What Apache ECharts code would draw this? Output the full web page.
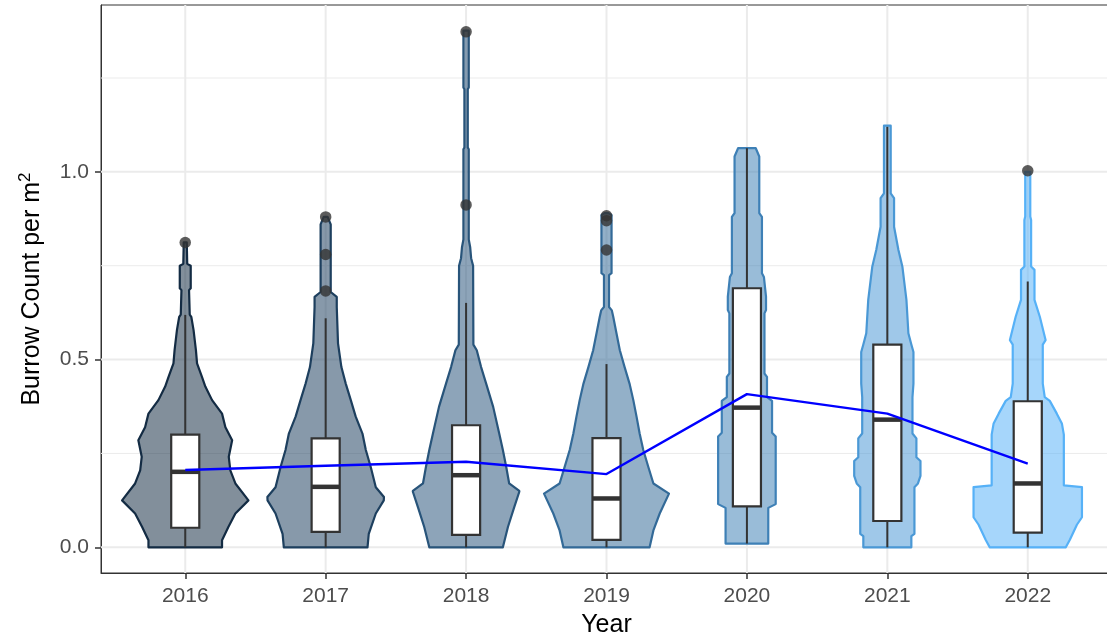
<!DOCTYPE html>
<html><head><meta charset="utf-8">
<script src="https://cdn.jsdelivr.net/npm/echarts@6/dist/echarts.min.js"></script>
<style>html,body{margin:0;padding:0;background:#fff}#c{width:1107px;height:642px}</style>
</head><body><div id="c"></div>
<script>
// ---- data ----
const years = ['2016', '2017', '2018', '2019', '2020', '2021', '2022'];
const yTicks = [0, 0.5, 1.0];
const yMinorTicks = [0.25, 0.75, 1.25];
const means = [0.206, 0.217, 0.228, 0.195, 0.408, 0.356, 0.223];
// [lower whisker, Q1, median, Q3, upper whisker]
const boxStats = [
  [0.000, 0.052, 0.201, 0.300, 0.619],
  [0.000, 0.041, 0.161, 0.290, 0.610],
  [0.000, 0.033, 0.192, 0.325, 0.651],
  [0.000, 0.020, 0.130, 0.291, 0.488],
  [0.010, 0.109, 0.372, 0.690, 1.063],
  [0.000, 0.070, 0.340, 0.540, 1.120],
  [0.000, 0.039, 0.170, 0.389, 0.708]
];
const outliers = [
  [0.812],
  [0.880, 0.780, 0.683],
  [1.373, 0.912],
  [0.883, 0.870, 0.792],
  [],
  [],
  [1.003]
];
// violin profiles: [value, half width in category units]
const violin2016 = [[0.812,0.011],[0.79,0.012],[0.755,0.014],[0.75,0.039],[0.69,0.039],[0.685,0.027],[0.62,0.032],[0.614,0.043],[0.579,0.059],[0.525,0.076],[0.49,0.084],[0.454,0.119],[0.428,0.143],[0.392,0.191],[0.356,0.262],[0.32,0.286],[0.285,0.334],[0.241,0.31],[0.205,0.321],[0.17,0.357],[0.125,0.45],[0.09,0.357],[0.054,0.307],[0.019,0.262],[0,0.262]];
const violin2017 = [[0.88,0.014],[0.86,0.036],[0.68,0.036],[0.667,0.079],[0.64,0.079],[0.543,0.088],[0.48,0.112],[0.436,0.143],[0.392,0.179],[0.348,0.214],[0.303,0.262],[0.259,0.286],[0.214,0.321],[0.16,0.357],[0.134,0.415],[0.125,0.414],[0.09,0.357],[0.036,0.307],[0,0.298]];
const violin2018 = [[1.376,0.019],[1.225,0.019],[1.22,0.012],[1.065,0.012],[1.06,0.019],[0.82,0.019],[0.80,0.029],[0.77,0.036],[0.75,0.05],[0.54,0.052],[0.525,0.076],[0.48,0.107],[0.436,0.143],[0.374,0.193],[0.303,0.236],[0.259,0.262],[0.214,0.286],[0.17,0.307],[0.15,0.379],[0.148,0.379],[0.107,0.343],[0.054,0.298],[0,0.262]];
const violin2019 = [[0.89,0.014],[0.885,0.036],[0.73,0.036],[0.725,0.018],[0.64,0.018],[0.631,0.038],[0.614,0.048],[0.57,0.071],[0.525,0.095],[0.48,0.129],[0.436,0.164],[0.392,0.191],[0.348,0.214],[0.303,0.236],[0.259,0.262],[0.214,0.298],[0.17,0.334],[0.143,0.445],[0.139,0.44],[0.09,0.379],[0.045,0.334],[0,0.307]];
const violin2020 = [[1.063,0.063],[1.041,0.088],[0.89,0.088],[0.88,0.107],[0.73,0.107],[0.72,0.121],[0.668,0.136],[0.632,0.136],[0.623,0.125],[0.463,0.125],[0.454,0.143],[0.40,0.143],[0.39,0.179],[0.305,0.179],[0.295,0.205],[0.115,0.205],[0.105,0.152],[0.01,0.152]];
const violin2021 = [[1.123,0.024],[0.943,0.024],[0.93,0.048],[0.854,0.048],[0.792,0.079],[0.748,0.107],[0.659,0.136],[0.57,0.15],[0.54,0.171],[0.52,0.186],[0.436,0.186],[0.40,0.179],[0.303,0.179],[0.29,0.207],[0.24,0.207],[0.23,0.236],[0.19,0.236],[0.17,0.218],[0.16,0.193],[0.036,0.193],[0.03,0.171],[0,0.171]];
const violin2022 = [[1.0,0.018],[0.881,0.018],[0.872,0.024],[0.748,0.024],[0.739,0.048],[0.659,0.048],[0.614,0.086],[0.552,0.127],[0.54,0.107],[0.436,0.107],[0.40,0.121],[0.39,0.157],[0.356,0.207],[0.33,0.243],[0.30,0.257],[0.165,0.257],[0.16,0.386],[0.08,0.386],[0.06,0.35],[0.02,0.3],[0,0.271]];
const violins = [violin2016, violin2017, violin2018, violin2019, violin2020, violin2021, violin2022];

// ---- styles ----
const STYLE = {
  font: 'Liberation Sans, Arial, sans-serif',
  edge: ['#132B43', '#1D3F5E', '#28547A', '#336A98', '#3E80B6', '#4A98D5', '#56B1F7'],
  fillAlpha: 0.53,
  boxHalf: 0.1,
  grid: '#EBEBEB',
  ink: '#333333'
};
function rgba(hex, a) {
  const n = parseInt(hex.slice(1), 16);
  return 'rgba(' + ((n >> 16) & 255) + ',' + ((n >> 8) & 255) + ',' + (n & 255) + ',' + a + ')';
}
const xPos = years.map((_, i) => i + 1);

const chart = echarts.init(document.getElementById('c'), null, { renderer: 'canvas' });

function hLines(width) {
  return function (params, api) {
    const cs = params.coordSys;
    const y = api.coord([1, api.value(0)])[1];
    return { type: 'line', shape: { x1: cs.x, y1: y, x2: cs.x + cs.width, y2: y },
      style: { stroke: STYLE.grid, lineWidth: width }, silent: true };
  };
}

const option = {
  animation: false,
  backgroundColor: '#fff',
  grid: { left: 101, right: -5, top: 5, bottom: 69, show: true, borderColor: STYLE.ink, borderWidth: 1,
    backgroundColor: '#fff', containLabel: false, outerBoundsMode: 'none' },
  xAxis: {
    type: 'value', min: 0.4, max: 7.6,
    axisLine: { show: true, onZero: false, lineStyle: { color: STYLE.ink, width: 1 } },
    axisTick: { show: true, customValues: xPos, length: 6, lineStyle: { color: STYLE.ink, width: 1.5 } },
    axisLabel: { show: true, customValues: xPos, formatter: v => years[Math.round(v) - 1],
      color: '#4D4D4D', fontSize: 21, fontFamily: STYLE.font, margin: 13 },
    splitLine: { show: false },
    name: 'Year', nameLocation: 'middle', nameGap: 40,
    nameTextStyle: { color: '#000', fontSize: 25, fontFamily: STYLE.font }
  },
  yAxis: {
    type: 'value', min: -0.0685, max: 1.4445,
    axisLine: { show: true, onZero: false, lineStyle: { color: STYLE.ink, width: 1 } },
    axisTick: { show: true, customValues: yTicks, length: 6, lineStyle: { color: STYLE.ink, width: 1.5 } },
    axisLabel: { show: true, customValues: yTicks, formatter: v => v.toFixed(1),
      color: '#4D4D4D', fontSize: 21, fontFamily: STYLE.font, margin: 12 },
    splitLine: { show: false },
    name: '{t|Burrow Count per m}{s|2}', nameLocation: 'middle', nameGap: 53, nameRotate: 90,
    nameTextStyle: { color: '#000', fontSize: 25, fontFamily: STYLE.font,
      rich: { t: { fontSize: 25, fontFamily: STYLE.font, color: '#000' },
              s: { fontSize: 17, fontFamily: STYLE.font, color: '#000', verticalAlign: 'top', padding: [0, 0, 14, 0] } } }
  },
  series: [
    { type: 'custom', z: 1, silent: true, data: yMinorTicks.map(v => [v]), renderItem: hLines(1) },
    { type: 'custom', z: 1, silent: true, data: yTicks.map(v => [v]), renderItem: hLines(2) },
    { type: 'custom', z: 1, silent: true, data: xPos.map(v => [v]),
      renderItem: (params, api) => {
        const cs = params.coordSys;
        const x = api.coord([api.value(0), 0])[0];
        return { type: 'line', shape: { x1: x, y1: cs.y, x2: x, y2: cs.y + cs.height },
          style: { stroke: STYLE.grid, lineWidth: 2 }, silent: true };
      } },
    { type: 'custom', z: 2, silent: true, data: xPos.map(v => [v]),
      renderItem: (params, api) => {
        const i = params.dataIndex;
        const x = api.value(0);
        const prof = violins[i];
        const right = prof.map(p => api.coord([x + p[1], p[0]]));
        const left = prof.slice().reverse().map(p => api.coord([x - p[1], p[0]]));
        return { type: 'polygon', shape: { points: right.concat(left) },
          style: { fill: rgba(STYLE.edge[i], STYLE.fillAlpha), stroke: STYLE.edge[i], lineWidth: 2.2, lineJoin: 'round' } };
      } },
    { type: 'custom', z: 3, silent: true, data: xPos.map((v, i) => [v].concat(boxStats[i])),
      renderItem: (params, api) => {
        const x = api.value(0);
        const lo = api.value(1), q1 = api.value(2), med = api.value(3), q3 = api.value(4), hi = api.value(5);
        const h = STYLE.boxHalf;
        const a = api.coord([x, lo]), b = api.coord([x, q1]), c = api.coord([x, q3]), d = api.coord([x, hi]);
        const tl = api.coord([x - h, q3]), br = api.coord([x + h, q1]);
        const ml = api.coord([x - h, med]), mr = api.coord([x + h, med]);
        const ls = { stroke: STYLE.ink, lineWidth: 2 };
        return { type: 'group', children: [
          { type: 'line', shape: { x1: a[0], y1: a[1], x2: b[0], y2: b[1] }, style: ls },
          { type: 'line', shape: { x1: c[0], y1: c[1], x2: d[0], y2: d[1] }, style: ls },
          { type: 'rect', shape: { x: tl[0], y: tl[1], width: br[0] - tl[0], height: br[1] - tl[1] },
            style: { fill: '#fff', stroke: STYLE.ink, lineWidth: 2.2 } },
          { type: 'line', shape: { x1: ml[0], y1: ml[1], x2: mr[0], y2: mr[1] }, style: { stroke: STYLE.ink, lineWidth: 4.5 } }
        ] };
      } },
    { type: 'line', z: 4, silent: true, symbol: 'none', data: xPos.map((v, i) => [v, means[i]]),
      lineStyle: { color: '#0000FF', width: 2.4 } },
    { type: 'scatter', z: 5, silent: true, symbol: 'circle', symbolSize: 11.5,
      data: outliers.flatMap((arr, i) => arr.map(v => [xPos[i], v])),
      itemStyle: { color: STYLE.ink } }
  ]
};
chart.setOption(option);
</script>
</body></html>
